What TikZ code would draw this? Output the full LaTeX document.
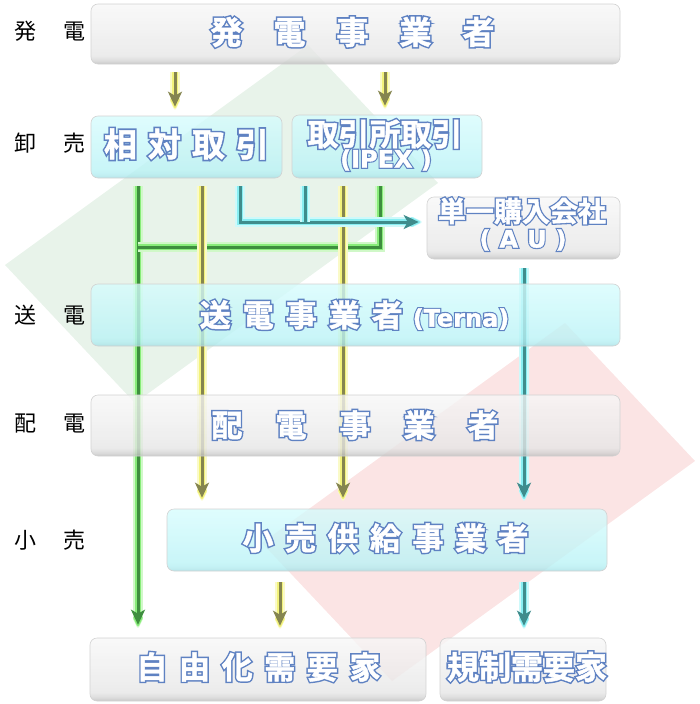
\documentclass[tikz,border=0pt]{standalone}
\usepackage{fontspec}
\newfontfamily\cjk{Noto Sans CJK JP}
\newfontfamily\cjkb{Noto Sans CJK JP Bold}[FakeBold=1.5]
\newfontfamily\cjkout{Noto Sans CJK JP Bold}[FakeBold=11]
\newfontfamily\latb{DejaVu Sans Bold}[FakeBold=1.5]
\newfontfamily\latout{DejaVu Sans Bold}[FakeBold=11]
\usetikzlibrary{arrows.meta}
\pgfdeclarelayer{back}
\pgfdeclarelayer{lines}
\pgfsetlayers{back,lines,main}

\definecolor{outblue}{HTML}{5F82C2}
\definecolor{gB}{HTML}{BABABA}
\definecolor{gBb}{HTML}{D3D3D3}
\definecolor{gM}{HTML}{E6E6E6}
\definecolor{gT}{HTML}{F7F7F7}
\definecolor{cB}{HTML}{A2DCE2}
\definecolor{cBb}{HTML}{B2ECF0}
\definecolor{cM}{HTML}{BAF3F6}
\definecolor{cT}{HTML}{D6FCFD}
\definecolor{yline}{HTML}{85854F}
\definecolor{yg1}{HTML}{FAFAC8}
\definecolor{yg2}{HTML}{F2F27A}
\definecolor{gline}{HTML}{3E8E3E}
\definecolor{gg1}{HTML}{D0F8C8}
\definecolor{gg2}{HTML}{88EC7A}
\definecolor{cline}{HTML}{3F8C8C}
\definecolor{cg1}{HTML}{CEF9FA}
\definecolor{cg2}{HTML}{88EEF2}
\definecolor{dgreen}{HTML}{E8F3EA}
\definecolor{dred}{HTML}{FBE4E4}
\definecolor{bord}{HTML}{D2D2D2}

\pgfdeclareverticalshading{graysh}{100bp}{color(0bp)=(gB); color(25bp)=(gB); color(28bp)=(gBb); color(32bp)=(gM); color(75bp)=(gT); color(100bp)=(gT)}
\pgfdeclareverticalshading{cyansh}{100bp}{color(0bp)=(cB); color(25bp)=(cB); color(28bp)=(cBb); color(32bp)=(cM); color(75bp)=(cT); color(100bp)=(cT)}

\newcommand\LF{}
\tikzset{
 box/.style={rounded corners=7pt, draw=bord, line width=0.6pt, fill opacity=0.78, inner sep=0pt},
 graybox/.style={box, shade, shading=graysh},
 cyanbox/.style={box, shade, shading=cyansh},
 outl/.style={inner sep=0pt, text=outblue,
   execute at begin node={\let\LF\latout\special{pdf:code 0.373 0.51 0.761 rg 0.373 0.51 0.761 RG}}},
 whit/.style={inner sep=0pt, text=white,
   execute at begin node={\let\LF\latb\special{pdf:code 1 1 1 rg 1 1 1 RG}}},
 side/.style={font=\cjk\fontsize{22}{24}\selectfont, text=black, inner sep=0pt,
   execute at begin node={\special{pdf:code 0 0 0 rg 0 0 0 RG}}},
 tipA/.style={-{Stealth[length=15pt,width=14pt,inset=4pt]}},
 tipG/.style={-{Stealth[length=13pt,width=12pt,inset=3pt,round]}},
 yarr/.style={draw=yline, line width=3pt, tipA,
   preaction={draw=yg1, line width=10pt, tipG, shorten >=-3pt},
   preaction={draw=yg2, line width=6pt, tipG, shorten >=-1.5pt}},
 garr/.style={draw=gline, line width=3pt, tipA,
   preaction={draw=gg1, line width=10pt, tipG, shorten >=-3pt},
   preaction={draw=gg2, line width=6pt, tipG, shorten >=-1.5pt}},
 gln/.style={draw=gline, line width=3pt,
   preaction={draw=gg1, line width=10pt},
   preaction={draw=gg2, line width=6pt}},
 carr/.style={draw=cline, line width=3pt, tipA,
   preaction={draw=cg1, line width=10pt, tipG, shorten >=-3pt},
   preaction={draw=cg2, line width=6pt, tipG, shorten >=-1.5pt}},
 cln/.style={draw=cline, line width=3pt,
   preaction={draw=cg1, line width=10pt},
   preaction={draw=cg2, line width=6pt}},
}
% outlined text: name, position, size, content
\newcommand\otext[4]{%
 \node[outl, font=\cjkout\fontsize{#3}{#3}\selectfont] (#1o) at (#2) {#4};
 \node[whit, font=\cjkb\fontsize{#3}{#3}\selectfont] (#1) at (#2) {#4};}

\begin{document}
\begin{tikzpicture}[x=1pt,y=-1pt]
\useasboundingbox (0,0) rectangle (700,704);

% background diamonds
\begin{pgfonlayer}{back}
\fill[dgreen] (308,45) -- (438,183) -- (135,403) -- (5,265) -- cycle;
\fill[dred] (565,323) -- (695,461) -- (392,681) -- (262,543) -- cycle;
\end{pgfonlayer}

% boxes
\node[graybox, minimum width=529pt, minimum height=60pt] (gen) at (355.5,34) {};
\node[cyanbox, minimum width=191pt, minimum height=62pt] (sotai) at (186.5,147) {};
\node[cyanbox, minimum width=190pt, minimum height=63pt] (ipex) at (387,146.5) {};
\node[graybox, minimum width=193pt, minimum height=62pt] (au) at (523.5,228) {};
\node[cyanbox, minimum width=529pt, minimum height=62pt] (terna) at (355.5,315) {};
\node[graybox, minimum width=529pt, minimum height=61pt] (haiden) at (355.5,425.5) {};
\node[cyanbox, minimum width=440pt, minimum height=62pt] (kouri) at (387,540) {};
\node[graybox, minimum width=336pt, minimum height=63pt] (jiyu) at (258,669.5) {};
\node[graybox, minimum width=166pt, minimum height=63pt] (kisei) at (523,669.5) {};

% box texts
\otext{tgen}{352.5,32}{32}{発\hskip31pt電\hskip31pt事\hskip31pt業\hskip31pt者}
\otext{tsotai}{186.5,144}{33}{相\hskip11pt対\hskip11pt取\hskip11pt引}
\otext{tipex}{385,134}{31}{取引所取引}
\otext{tipexb}{386,160}{24}{\LF (IPEX )}
\otext{tau}{522,211}{28}{単一購入会社}
\otext{taub}{523,240}{24}{\LF (\hskip9pt A\hskip9pt U\hskip9pt)}
\otext{tterna}{354.5,315}{31}{送\hskip12pt電\hskip12pt事\hskip12pt業\hskip12pt者\hskip10pt{\LF\fontsize{24}{24}\selectfont(Terna)}}
\otext{thaiden}{355,425}{31}{配\hskip33pt電\hskip33pt事\hskip33pt業\hskip33pt者}
\otext{tkouri}{385.5,538}{31}{小\hskip11.5pt売\hskip11.5pt供\hskip11.5pt給\hskip11.5pt事\hskip11.5pt業\hskip11.5pt者}
\otext{tjiyu}{258.5,667}{31}{自\hskip11.6pt由\hskip11.6pt化\hskip11.6pt需\hskip11.6pt要\hskip11.6pt家}
\otext{tkisei}{527,667}{32}{規制需要家}

% side labels
\node[side] (l1) at (50,31) {発\hskip28pt電};
\node[side] (l2) at (50,143) {卸\hskip28pt売};
\node[side] (l3) at (50,315) {送\hskip28pt電};
\node[side] (l4) at (50,424) {配\hskip28pt電};
\node[side] (l5) at (50,540) {小\hskip28pt売};

% column coordinates
\coordinate (xa) at (175,0);
\coordinate (xb) at (385,0);
\coordinate (xg) at (138,0);
\coordinate (xh) at (380,0);
\coordinate (xy1) at (202,0);
\coordinate (xy2) at (343,0);
\coordinate (xc1) at (240,0);
\coordinate (xc2) at (305,0);
\coordinate (xau) at (524,0);
\coordinate (xy3) at (280,0);
\coordinate (gj) at (138,247);
\coordinate (cj) at (305,222);

% connectors
\begin{pgfonlayer}{lines}
\path[garr] ([yshift=-8pt]sotai.south -| xg) -- ([yshift=13pt]jiyu.north -| xg);
\path[gln] ([yshift=-8pt]ipex.south -| xh) |- (gj);
\path[yarr] ([yshift=-8pt]sotai.south -| xy1) -- ([yshift=11pt]kouri.north -| xy1);
\path[yarr] ([yshift=-8pt]ipex.south -| xy2) -- ([yshift=11pt]kouri.north -| xy2);
\path[carr] ([yshift=-8pt]sotai.south -| xc1) |- ([xshift=-8pt,yshift=6pt]au.west);
\path[cln] ([yshift=-8pt]ipex.south -| xc2) -- (cj);
\path[carr] ([yshift=-9pt]au.south -| xau) -- ([yshift=11pt]kouri.north -| xau);
\path[yarr] ([yshift=-8pt]gen.south -| xa) -- ([yshift=9pt]sotai.north -| xa);
\path[yarr] ([yshift=-8pt]gen.south -| xb) -- ([yshift=9pt]ipex.north -| xb);
\path[yarr] ([yshift=-11pt]kouri.south -| xy3) -- ([yshift=12pt]jiyu.north -| xy3);
\path[carr] ([yshift=-11pt]kouri.south -| xau) -- ([yshift=12pt]kisei.north -| xau);
\end{pgfonlayer}
\end{tikzpicture}
\end{document}
